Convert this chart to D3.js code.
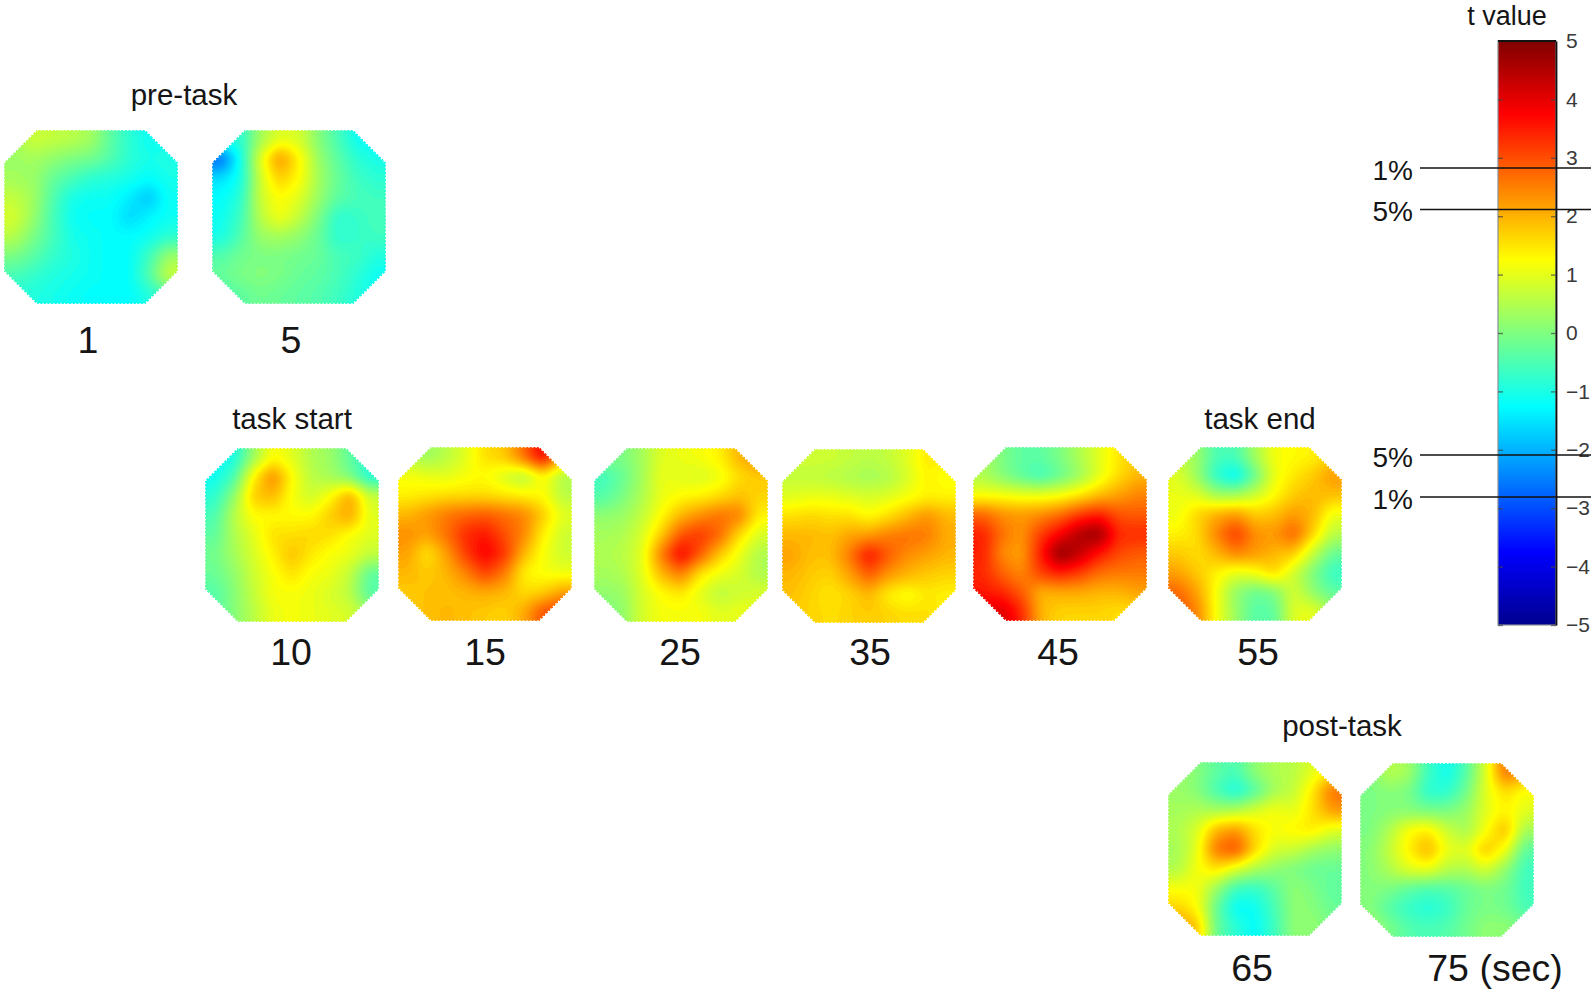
<!DOCTYPE html>
<html>
<head>
<meta charset="utf-8">
<style>
html, body { margin: 0; padding: 0; background: #fff; }
svg { display: block; }
text { font-family: "Liberation Sans", Arial, sans-serif; fill: #151515; }
</style>
<script src="https://cdn.jsdelivr.net/npm/d3@7"></script>
</head>
<body>
<svg id="chart" width="1595" height="995"></svg>
<script>
// t values, 9 x 9 cells, rows top to bottom
const sec1 = [
  0.4,0.8,0.7,0.6,0.4,-0.3,-0.8,-1.1,-1.1,
  0.3,0.4,0.2,0,-0.1,-0.4,-0.8,-1.0,-0.9,
  0.4,0.3,-0.2,-0.5,-0.8,-0.9,-1.0,-1.2,-1.0,
  0.7,0.4,-0.4,-1.0,-1.1,-1.1,-1.4,-1.8,-1.1,
  0.9,0.3,-0.5,-1.1,-1.2,-1.2,-1.6,-1.3,-1.1,
  0.6,0,-0.5,-1.0,-1.1,-1.2,-1.2,-1.1,-0.8,
  0,-0.3,-0.7,-0.9,-1.1,-1.2,-1.2,-0.6,0.3,
  -0.5,-0.7,-0.9,-1.0,-1.1,-1.2,-1.2,-0.4,0.8,
  -0.8,-0.9,-1,-1.1,-1.2,-1.2,-1.2,-0.9,-0.5
];
const sec5 = [
  -0.8,-0.8,0.4,1.0,0.9,0.1,-0.5,-1.1,-1.2,
  -2.7,-1.0,1.0,2.4,1.4,0.3,-0.3,-0.8,-1.0,
  -1.5,-1.0,0.8,1.8,1.3,0.4,-0.2,-0.6,-0.8,
  -1.2,-0.8,0.8,1.3,1.0,0.3,-0.3,-0.5,-0.6,
  -1.1,-0.6,0.6,1.2,0.7,0.0,-0.8,-0.7,-0.5,
  -1.0,-0.4,0.3,0.4,0.2,-0.2,-0.8,-0.7,-0.6,
  -0.4,-0.1,0,0,-0.1,-0.2,-0.5,-0.6,-0.9,
  -0.2,0,0.1,0,-0.2,-0.3,-0.5,-0.8,-1.1,
  -0.5,-0.3,-0.1,-0.2,-0.3,-0.4,-0.6,-0.9,-1.1
];
const sec10 = [
  -1.2,-1.0,0.3,1.3,1.0,0.5,0.3,-0.3,-0.8,
  -1.1,-0.5,1.4,2.5,1.3,0.6,0.4,0,-0.9,
  -0.8,0.2,1.8,2.0,1.2,0.8,1.3,2.2,0.8,
  -0.5,0.6,1.3,1.3,1.3,1.3,1.8,2.2,1.0,
  -0.3,0.5,1.0,1.6,1.6,1.7,1.6,1.2,1.0,
  -0.1,0.4,0.9,1.4,1.9,1.5,1.2,1.1,0.7,
  -0.2,0.2,0.8,1.2,1.6,1.2,1.1,0.7,-0.3,
  -0.4,0.1,0.7,1.2,1.2,1.1,0.9,0.6,-0.4,
  -0.4,0.1,0.6,1.1,1.2,1.1,1.0,0.9,0.4
];
const sec15 = [
  0.6,0.3,0.6,1.0,1.6,1.8,2.7,3.9,2.0,
  1.2,1.1,1.0,1.2,1.3,0.9,0.5,1.3,0.5,
  1.4,1.5,1.6,1.6,1.6,1.5,1.4,1.3,0.6,
  2.0,2.3,2.6,2.8,2.9,2.7,2.5,1.8,1.0,
  2.4,2.2,2.7,3.4,3.6,3.0,2.5,1.4,0.8,
  2.2,1.5,2.2,3.2,3.9,3.3,2.0,1.2,0.8,
  2.0,1.8,2.0,2.5,3.2,2.6,1.4,1.2,1.1,
  1.8,1.9,1.9,2.0,2.1,2.0,1.6,1.7,2.2,
  1.8,1.9,2.0,1.9,1.8,1.7,2.1,3.0,3.2
];
const sec25 = [
  0,0,0.4,1.0,1.1,1.2,1.4,2.0,2.4,
  -0.6,-0.2,0.4,1.1,1.0,0.9,1.1,1.6,1.8,
  -0.4,0,0.5,1.1,1.3,1.4,1.6,1.9,1.7,
  0.2,0.3,0.7,1.3,2.0,2.4,2.7,2.6,1.4,
  0.4,0.5,0.9,1.8,3.0,3.3,2.8,1.6,0.9,
  0.5,0.6,1.0,2.6,3.9,2.9,1.8,1.1,0.5,
  0.4,0.5,1.0,2.0,2.6,1.5,1.1,0.9,0.5,
  0.2,0.3,0.9,1.3,1.5,1.0,0.6,0.8,0.9,
  0,0.2,0.9,1.2,1.2,1.2,1.0,1.1,1.1
];
const sec35 = [
  0.8,0.8,0.8,0.7,0.6,0.7,1.0,1.5,1.4,
  0.7,0.7,0.6,0.5,0.4,0.5,0.9,1.4,1.2,
  1.0,1.1,1.1,1.0,0.9,1.0,1.2,1.4,1.4,
  1.6,1.7,1.6,1.6,1.3,1.6,2.0,2.4,2.0,
  2.0,2.0,1.9,2.2,2.3,2.6,2.7,2.6,2.1,
  2.2,1.9,1.9,2.6,3.7,2.9,2.4,2.2,2.0,
  2.0,1.8,1.7,2.2,2.9,2.3,2.0,1.8,1.7,
  1.9,1.7,1.5,1.7,2.0,1.4,1.2,1.5,1.4,
  1.8,1.7,1.6,1.7,1.8,1.7,1.6,1.6,1.4
];
const sec45 = [
  0.5,0.0,-0.3,-0.3,0.0,0.5,1.0,1.5,1.8,
  0.5,0.1,-0.3,-0.6,-0.2,0.3,1.0,1.6,2.0,
  1.2,1.2,1.1,1.1,1.2,1.5,1.9,2.2,2.5,
  2.8,2.4,2.3,2.4,2.7,3.2,3.5,3.0,2.9,
  3.5,2.7,2.3,3.2,3.8,4.6,4.9,3.4,3.4,
  3.5,2.4,2.2,3.5,5.0,4.4,3.6,3.1,2.9,
  3.4,2.8,2.4,3.2,3.5,3.2,2.7,2.6,2.6,
  3.6,3.4,2.9,2.0,2.1,2.1,2.0,2.0,2.2,
  3.9,4.2,3.4,2.0,1.7,1.7,1.7,1.6,1.6
];
const sec55 = [
  0.7,0.3,-0.5,-0.5,0.4,1.2,1.3,1.4,1.7,
  1.0,0.3,-0.8,-1.3,-0.2,1.1,1.5,1.8,2.3,
  1.1,1.0,0.4,0.4,0.8,1.3,1.8,2.0,1.9,
  1.1,1.7,2.1,2.3,1.8,1.9,2.3,2.0,1.1,
  1.4,1.6,2.5,3.3,2.4,2.3,2.9,1.7,0.6,
  1.8,1.6,2.0,2.5,2.3,2.0,1.8,0.7,-0.2,
  2.2,1.8,1.4,1.0,1.2,1.7,0.8,0,-0.7,
  2.8,2.2,1.2,0.2,-0.2,0,0.9,0.2,-0.3,
  3.0,2.5,1.2,0.3,-0.4,-0.3,1.0,1.1,0.4
];
const sec65 = [
  0.3,0.1,-0.3,-0.5,0.2,0.5,0.6,1.0,1.5,
  0.3,0.1,-0.5,-1.0,-0.4,0.4,0.7,1.5,2.7,
  0.4,0.5,0.4,0.5,0.9,1.2,1.0,1.6,2.3,
  0.5,0.9,2.0,2.3,1.6,1.2,1.4,1.5,1.0,
  0.4,1.0,2.7,3.1,1.7,0.9,0.8,0.4,0.2,
  0.5,1.2,1.6,1.0,0.5,0.2,0.0,-0.2,-0.2,
  1.2,1.2,0.3,-0.6,-0.7,-0.3,0.2,0,-0.3,
  1.7,1.3,-0.2,-1.2,-1.1,-0.5,0.2,0.1,-0.2,
  2.3,1.9,-0.2,-0.8,-1.2,-0.6,0.2,0.2,0
];
const sec75 = [
  0,0.6,0.4,-0.6,-1.1,-0.4,0.9,2.7,2.2,
  0,0.1,0,-0.8,-0.8,-0.1,1.0,1.6,1.2,
  0,0.1,0.1,0.0,0.0,0.3,1.0,1.4,1.0,
  0,0.5,1.3,1.5,0.8,0.4,1.2,2.0,0.4,
  0.1,0.7,1.4,2.1,1.1,1.0,1.9,1.2,-0.3,
  0.1,0.5,1.0,1.1,0.6,0.5,0.9,0.2,-0.6,
  0.1,0,-0.3,-0.5,-0.4,-0.2,0,-0.1,-0.6,
  0.1,-0.4,-0.7,-0.9,-0.7,-0.2,0,-0.1,-0.5,
  0.4,0,-0.4,-0.5,-0.4,-0.1,0.2,0.2,0
];
const scaleTicks = [5, 4, 3, 2, 1, 0, -1, -2, -3, -4, -5];
const jetDomain = [-5, -3.75, -1.25, 1.25, 3.75, 5];
const jetColors = ["#00008f", "#0000ff", "#00ffff", "#ffff00", "#ff0000", "#800000"];
const gridSize = 9;

// where each map sits on the page
const panels = [
  { values: sec1,  x: 4,    y: 130, label: "1",         lx: 88,   ly: 353 },
  { values: sec5,  x: 212,  y: 130, label: "5",         lx: 291,  ly: 353 },
  { values: sec10, x: 205,  y: 448, label: "10",        lx: 291,  ly: 665 },
  { values: sec15, x: 398,  y: 447, label: "15",        lx: 485,  ly: 665 },
  { values: sec25, x: 594,  y: 448, label: "25",        lx: 680,  ly: 665 },
  { values: sec35, x: 782,  y: 449, label: "35",        lx: 870,  ly: 665 },
  { values: sec45, x: 973,  y: 447, label: "45",        lx: 1058, ly: 665 },
  { values: sec55, x: 1168, y: 447, label: "55",        lx: 1258, ly: 665 },
  { values: sec65, x: 1168, y: 762, label: "65",        lx: 1252, ly: 981 },
  { values: sec75, x: 1360, y: 763, label: "75 (sec)",  lx: 1495, ly: 981 }
];
const captions = [
  { text: "pre-task",   x: 184,  y: 105, size: 29.5 },
  { text: "task start", x: 292,  y: 429, size: 29.5 },
  { text: "task end",   x: 1260, y: 429, size: 29.5 },
  { text: "post-task",  x: 1342, y: 736, size: 29.5 },
  { text: "t value",    x: 1507, y: 25,  size: 27 }
];
const sigLines = [
  { t: 2.825, label: "1%" },
  { t: 2.115, label: "5%" },
  { t: -2.09, label: "5%" },
  { t: -2.81, label: "1%" }
];

const svg = d3.select("#chart");
const jet = d3.scaleLinear().domain(jetDomain).range(jetColors).clamp(true);
const mapSize = 174;
const cut = 33;
const factor = 6; // fine cells per grid cell, only to get smooth contours
const thresholds = d3.range(-5, 5.01, 0.08);

// bilinear upsample then a light blur, the maps in the figure are interpolated
function upsample(values) {
  const n = gridSize * factor;
  const out = new Float64Array(n * n);
  for (let j = 0; j < n; j++) {
    for (let i = 0; i < n; i++) {
      const gx = Math.min(gridSize - 1, Math.max(0, (i + 0.5) / factor - 0.5));
      const gy = Math.min(gridSize - 1, Math.max(0, (j + 0.5) / factor - 0.5));
      const x0 = Math.min(gridSize - 2, Math.floor(gx)), y0 = Math.min(gridSize - 2, Math.floor(gy));
      const fx = gx - x0, fy = gy - y0;
      const v = k => values[(y0 + (k >> 1)) * gridSize + x0 + (k & 1)];
      out[j * n + i] = (v(0) * (1 - fx) + v(1) * fx) * (1 - fy) + (v(2) * (1 - fx) + v(3) * fx) * fy;
    }
  }
  d3.blur2({ data: out, width: n, height: n }, 1);
  return { data: out, n };
}

const octagon = [
  [cut, 0], [mapSize - cut, 0], [mapSize, cut], [mapSize, mapSize - cut],
  [mapSize - cut, mapSize], [cut, mapSize], [0, mapSize - cut], [0, cut]
];
const octagonPath = d3.line()(octagon) + "Z";

svg.append("defs").append("clipPath").attr("id", "octagon")
  .append("path").attr("d", octagonPath);

panels.forEach(p => {
  const { data, n } = upsample(p.values);
  const contours = d3.contours().size([n, n]).thresholds(thresholds)(Array.from(data));
  const k = mapSize / n;
  const path = d3.geoPath(d3.geoTransform({
    point(x, y) { this.stream.point(x * k, y * k); }
  }));
  const g = svg.append("g").attr("transform", `translate(${p.x},${p.y})`);
  g.append("g").attr("clip-path", "url(#octagon)")
    .selectAll("path").data(contours).join("path")
    .attr("d", path)
    .attr("fill", d => jet(d.value))
    .attr("stroke", d => jet(d.value))
    .attr("stroke-width", 0.3);
  // serrated rim of the plotted dots
  g.append("path").attr("d", octagonPath)
    .attr("fill", "none")
    .attr("stroke", "#fff")
    .attr("stroke-width", 1.6)
    .attr("stroke-dasharray", "1.6,2");
  svg.append("text")
    .attr("x", p.lx).attr("y", p.ly)
    .attr("text-anchor", "middle")
    .attr("font-size", 37.5)
    .text(p.label);
});

captions.forEach(c => {
  svg.append("text")
    .attr("x", c.x).attr("y", c.y)
    .attr("text-anchor", "middle")
    .attr("font-size", c.size)
    .text(c.text);
});

// colour bar
const barX = 1498, barW = 58;
const tScale = d3.scaleLinear().domain([5, -5]).range([41, 625]);
const grad = svg.select("defs").append("linearGradient")
  .attr("id", "jetBar").attr("x1", 0).attr("x2", 0).attr("y1", 0).attr("y2", 1);
grad.selectAll("stop").data(jetDomain.slice().reverse()).join("stop")
  .attr("offset", d => (5 - d) / 10)
  .attr("stop-color", d => jet(d));
svg.append("rect")
  .attr("x", barX).attr("y", tScale(5))
  .attr("width", barW).attr("height", tScale(-5) - tScale(5))
  .attr("fill", "url(#jetBar)")
  .attr("stroke", "#8a8f96")
  .attr("stroke-width", 1.2);

const axis = d3.axisRight(tScale).tickValues(scaleTicks).tickSizeInner(-5).tickSizeOuter(0).tickPadding(10);
const axisG = svg.append("g").attr("transform", `translate(${barX + barW},0)`).call(axis);
axisG.select(".domain").attr("stroke", "#111").attr("stroke-width", 1.8);
axisG.selectAll(".tick line").attr("stroke", "#444").attr("stroke-width", 1.4).attr("opacity", 0.7);
axisG.selectAll(".tick text")
  .style("font-family", '"Liberation Sans", Arial, sans-serif')
  .style("font-size", "21px")
  .style("fill", "#3a3a3a");

const leftAxis = d3.axisLeft(tScale).tickValues(scaleTicks).tickSizeInner(-5).tickSizeOuter(0).tickFormat("");
const leftG = svg.append("g").attr("transform", `translate(${barX},0)`).call(leftAxis);
leftG.select(".domain").attr("stroke", "none");
leftG.selectAll(".tick line").attr("stroke", "#444").attr("stroke-width", 1.4).attr("opacity", 0.7);

svg.append("line")
  .attr("x1", barX).attr("x2", barX + barW)
  .attr("y1", tScale(5)).attr("y2", tScale(5))
  .attr("stroke", "#111").attr("stroke-width", 2);

sigLines.forEach(s => {
  const y = tScale(s.t);
  svg.append("line")
    .attr("x1", 1420).attr("x2", 1591)
    .attr("y1", y).attr("y2", y)
    .attr("stroke", "#111").attr("stroke-width", 1.5);
  svg.append("text")
    .attr("x", 1413).attr("y", y + 12)
    .attr("text-anchor", "end")
    .attr("font-size", 28)
    .text(s.label);
});
</script>
</body>
</html>
